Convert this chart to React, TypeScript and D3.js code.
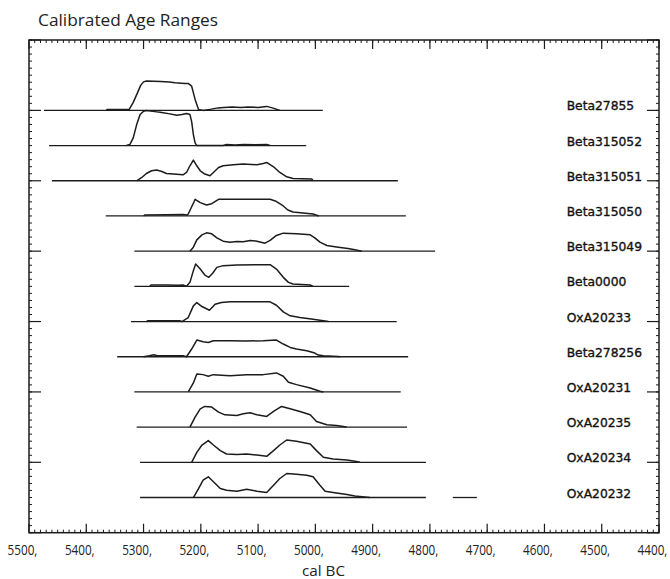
import React from "react";
import * as d3 from "d3";

// ---- data ----
const labels = ["Beta27855", "Beta315052", "Beta315051", "Beta315050", "Beta315049", "Beta0000", "OxA20233", "Beta278256", "OxA20231", "OxA20235", "OxA20234", "OxA20232"];
const rangeStart = [5474, 5465, 5460, 5366, 5316, 5316, 5322, 5346, 5316, 5312, 5306, 5306];
const rangeEnd = [4987, 5016, 4856, 4842, 4791, 4941, 4858, 4838, 4851, 4840, 4807, 4807];
const extraSegments: [number, number, number][] = [[11, 4760, 4718]];

const beta27855 = [[5364,0],[5364,1],[5325,1],[5318,8],[5311,17],[5305,25],[5300,28.5],[5295,29.3],[5270,28.8],[5255,28.3],[5245,27.7],[5228,27],[5222,27],[5216,24.3],[5210,11],[5204,1],[5196,0],[5184,1],[5170,2.5],[5160,3],[5145,3.5],[5130,2.8],[5118,3.5],[5100,3],[5085,4],[5075,2.5],[5062,0]];
const beta315052 = [[5330,0],[5324,1],[5318,7.7],[5312,21],[5306,31],[5300,34.3],[5295,35],[5277,33.7],[5271,33.3],[5254,31.7],[5242,30.3],[5233,31],[5225,32],[5219,31],[5216,24],[5213,11],[5210,2.7],[5207,0],[5161,0],[5155,1],[5140,0.7],[5125,1.2],[5105,0.8],[5085,1.2],[5079,0]];
const beta315051 = [[5312,0],[5303,3.3],[5295,7.3],[5286,10],[5277,10.7],[5268,9.3],[5260,7.3],[5248,6.7],[5231,6],[5225,8.3],[5219,15],[5213,20.7],[5207,15],[5201,10],[5193,6.7],[5184,5],[5178,8.3],[5169,13.3],[5161,15],[5143,16],[5126,16.7],[5102,16],[5091,17.3],[5085,18.3],[5073,14],[5062,8.3],[5050,4],[5039,2.3],[5006,1.7],[5004,0]];
const beta315050 = [[5300,0],[5298,1],[5260,1.3],[5231,1.5],[5224,1],[5222,2],[5217,8],[5212,14],[5210,16.7],[5201,13.3],[5190,11],[5181,12.3],[5169,16.7],[5149,16.7],[5079,16.7],[5070,15],[5056,10],[5048,6],[5039,4],[5022,3],[5004,2],[4999,1],[4994,0]];
const beta315049 = [[5219,0],[5213,4],[5207,11.3],[5198,16.3],[5190,18.3],[5181,17.3],[5172,13.3],[5161,10],[5149,9],[5137,9.7],[5126,9.3],[5114,10.7],[5102,10],[5088,8],[5079,10.7],[5068,15.7],[5056,18],[5033,17.3],[5009,16.3],[5001,13.3],[4992,9],[4980,5.7],[4960,4],[4943,2.7],[4931,1.5],[4919,0]];
const beta0000 = [[5289,0],[5287,1.3],[5260,1.3],[5240,1],[5231,1.3],[5225,0],[5219,4],[5213,15.7],[5209,22.3],[5201,17.3],[5193,11.3],[5186,9],[5179,13.3],[5172,19],[5161,20.7],[5137,21.3],[5102,21.7],[5079,21.7],[5068,17.3],[5056,9],[5047,4],[5039,2.3],[5009,1.3],[5004,0]];
const oxa20233 = [[5295,0],[5293,0.7],[5236,0.7],[5233,0],[5222,4],[5213,15.7],[5207,19],[5198,15],[5185,11.3],[5175,17.3],[5164,19],[5149,19.7],[5079,19.7],[5068,16.3],[5056,9.7],[5044,5.7],[5027,4],[5004,2.3],[4986,0.7],[4977,0]];
const beta278256 = [[5300,0],[5290,1],[5282,2],[5276,1],[5231,1],[5225,0],[5216,7.7],[5207,16.7],[5196,15],[5187,14.3],[5178,16],[5149,16],[5120,15.7],[5091,16],[5068,16.7],[5056,12.7],[5044,9.3],[5033,7.7],[5015,6],[5001,3.7],[4995,1.7],[4986,1],[4960,0.3],[4957,0]];
const oxa20231 = [[5222,0],[5213,9],[5207,18],[5196,17.3],[5187,15.7],[5178,17.3],[5149,16.3],[5120,17.3],[5091,17.3],[5068,19],[5056,15.7],[5047,9.7],[5033,7.3],[5009,4],[4992,0.7],[4986,0]];
const oxa20235 = [[5219,0],[5210,10],[5201,18.3],[5193,20.7],[5181,20],[5169,15],[5158,12.3],[5137,11.7],[5126,13.3],[5114,14.3],[5102,12.3],[5085,10.7],[5073,15.7],[5059,20.7],[5044,18.3],[5027,15.7],[5009,12.3],[4998,5.7],[4980,2.3],[4963,1.7],[4951,0.7],[4945,0]];
const oxa20234 = [[5216,0],[5207,10],[5198,17.3],[5187,21.7],[5178,17.3],[5166,11.7],[5155,8.3],[5137,7.7],[5120,8.3],[5102,7.3],[5085,6],[5073,11.7],[5062,17.3],[5050,22.3],[5033,21],[5009,18.3],[4998,11.7],[4986,5],[4969,3.3],[4945,2.3],[4931,1],[4922,0]];
const oxa20232 = [[5213,0],[5204,9],[5196,17.3],[5187,20.7],[5178,15.7],[5166,9],[5155,7.3],[5137,6.3],[5120,8.3],[5102,6.3],[5085,5],[5073,12.3],[5062,19],[5050,24],[5033,23.3],[5015,22.3],[5004,20.7],[4992,12.3],[4983,6.3],[4969,5],[4945,3],[4931,1.5],[4905,0]];
const curves = [beta27855, beta315052, beta315051, beta315050, beta315049, beta0000, oxa20233, beta278256, oxa20231, oxa20235, oxa20234, oxa20232];

const xTickValues = [5500, 5400, 5300, 5200, 5100, 5000, 4900, 4800, 4700, 4600, 4500, 4400];
const title = "Calibrated Age Ranges";
const xTitle = "cal BC";

export default function App() {
  const W = 670, H = 579;
  const x = d3.scaleLinear().domain([5500, 4400]).range([29, 659]);
  const y = d3.scaleLinear().domain([-2, 12]).range([40, 532.7]);
  const h = d3.scaleLinear().domain([0, 35]).range([0, 35]);
  const ink = "#1c1c1c";
  const [x0, x1] = x.range();
  const [yTop, yBot] = y.range();

  const xMinor = d3.range(4400, 5500, 10);
  const yMinor = d3.range(-2, 12.001, 0.2);
  const yMajor = d3.range(-2, 12.001, 2);

  const lineGen = (row: number) =>
    d3.line<number[]>()
      .x((d) => x(d[0]))
      .y((d) => y(row) - h(d[1]))
      .curve(d3.curveLinear);

  return (
    <svg width={W} height={H} style={{ position: "absolute", left: 0, top: 0, background: "#fff" }}>
      <text x={38} y={26} fontFamily="'Open Sans', sans-serif" fontSize={17} fill="#222"
        textLength={180} lengthAdjust="spacingAndGlyphs">{title}</text>

      {/* frame */}
      <rect x={x0} y={yTop} width={x1 - x0} height={yBot - yTop} fill="none" stroke={ink} strokeWidth={1.5} />

      {/* x ticks */}
      {xMinor.map((v) => (
        <g key={"xm" + v}>
          <line x1={x(v)} x2={x(v)} y1={yTop} y2={yTop + 3} stroke={ink} strokeWidth={1} />
          <line x1={x(v)} x2={x(v)} y1={yBot} y2={yBot - 3} stroke={ink} strokeWidth={1} />
        </g>
      ))}
      {xTickValues.map((v) => (
        <g key={"xM" + v}>
          <line x1={x(v)} x2={x(v)} y1={yTop} y2={yTop + 9} stroke={ink} strokeWidth={1.2} />
          <line x1={x(v)} x2={x(v)} y1={yBot} y2={yBot - 9} stroke={ink} strokeWidth={1.2} />
          <text transform={`translate(${x(v) - 6.5},555) scale(0.78,1)`} textAnchor="middle"
            fontFamily="'Open Sans', sans-serif" fontSize={15} fill="#222">{`${v},`}</text>
        </g>
      ))}
      <text x={323.5} y={576} textAnchor="middle" fontFamily="'Open Sans', sans-serif" fontSize={15}
        fill="#222" textLength={43} lengthAdjust="spacingAndGlyphs">{xTitle}</text>

      {/* y ticks */}
      {yMinor.map((v, i) => (
        <g key={"ym" + i}>
          <line x1={x0} x2={x0 + 3} y1={y(v)} y2={y(v)} stroke={ink} strokeWidth={1} />
          <line x1={x1} x2={x1 - 3} y1={y(v)} y2={y(v)} stroke={ink} strokeWidth={1} />
        </g>
      ))}
      {yMajor.map((v) => (
        <g key={"yM" + v}>
          <line x1={x0} x2={x0 + 12} y1={y(v)} y2={y(v)} stroke={ink} strokeWidth={1.2} />
          <line x1={x1} x2={x1 - 12} y1={y(v)} y2={y(v)} stroke={ink} strokeWidth={1.2} />
        </g>
      ))}

      {/* rows */}
      {labels.map((name, i) => (
        <g key={name}>
          <line x1={x(rangeStart[i])} x2={x(rangeEnd[i])} y1={y(i)} y2={y(i)} stroke={ink} strokeWidth={1.3} />
          <path d={lineGen(i)(curves[i] as number[][]) || ""} fill="none" stroke={ink} strokeWidth={1.5} strokeLinejoin="round" />
          <text x={566.7} y={y(i)} fontFamily="'DejaVu Sans', sans-serif" fontSize={12.3} fill="#111"
            stroke="#111" strokeWidth={0.35}>{name}</text>
        </g>
      ))}
      {extraSegments.map(([row, a, b], k) => (
        <line key={"ex" + k} x1={x(a)} x2={x(b)} y1={y(row)} y2={y(row)} stroke={ink} strokeWidth={1.3} />
      ))}
    </svg>
  );
}
